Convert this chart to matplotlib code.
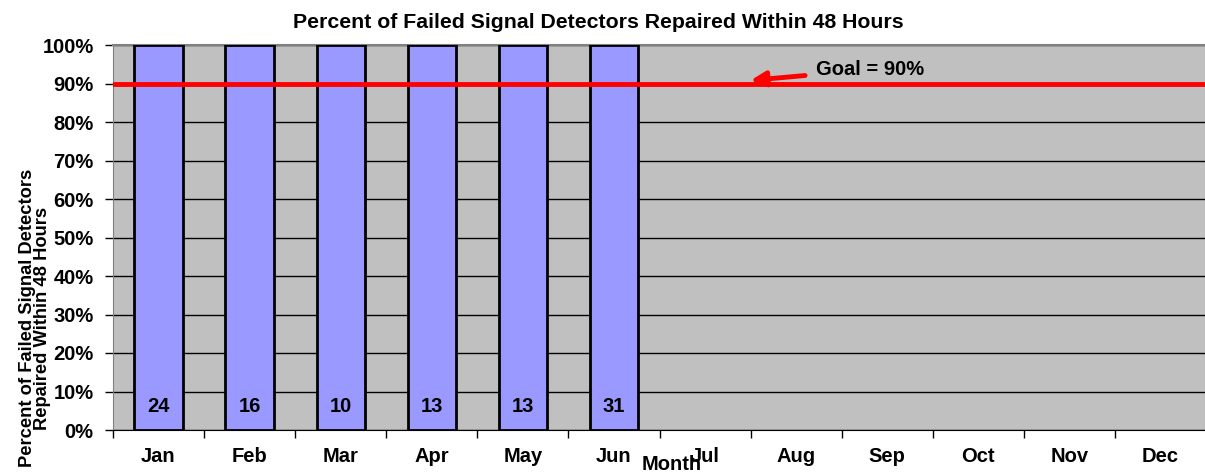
import numpy as np
import matplotlib
matplotlib.use("Agg")
import matplotlib.pyplot as plt

plt.rcParams['font.family'] = ['Liberation Sans', 'DejaVu Sans']
plt.rcParams['font.weight'] = 'bold'

months = ['Jan', 'Feb', 'Mar', 'Apr', 'May', 'Jun', 'Jul', 'Aug', 'Sep', 'Oct', 'Nov', 'Dec']
pct = [100, 100, 100, 100, 100, 100]
counts = [24, 16, 10, 13, 13, 31]
goal = 90

fs = 14.5
fig = plt.figure(figsize=(12.05, 4.74), dpi=100)
ax = fig.add_axes([113/1205, 1-430/474, (1206-113)/1205, 385/474])
ax.set_facecolor('#C0C0C0')

x = np.arange(len(months))
ax.bar(x[:len(pct)], pct, width=0.53, color='#9999FF', edgecolor='black', linewidth=2, zorder=3)
for xi, c in zip(x, counts):
    ax.text(xi, 6.2, str(c), ha='center', va='center', fontsize=fs, fontweight='bold', zorder=4)

ax.axhline(goal, color='#FF0000', lw=3.5, zorder=5)
ax.annotate('Goal = 90%', xy=(6.5, 90.8), xytext=(7.22, 93.6), fontsize=fs, fontweight='bold',
            va='center', ha='left',
            arrowprops=dict(arrowstyle='-|>', color='#FF0000', lw=3.5, mutation_scale=22,
                            shrinkA=6, shrinkB=0), zorder=6)

ax.set_xlim(-0.5, 11.5)
ax.set_ylim(0, 100)
ax.set_yticks(np.arange(0, 101, 10))
ax.set_yticklabels([f'{v}%' for v in range(0, 101, 10)], fontsize=fs, fontweight='bold')
ax.set_xticks(x)
ax.set_xticklabels(months, fontsize=fs, fontweight='bold')
ax.set_xticks(np.arange(-0.5, 12, 1), minor=True)
ax.tick_params(axis='x', which='major', length=0, pad=12)
ax.tick_params(axis='x', which='minor', length=6, width=1, direction='out')
ax.tick_params(axis='y', length=6, width=1, direction='out', pad=8)
ax.grid(axis='y', color='black', lw=1, zorder=1)
ax.set_axisbelow(True)
for s in ['top', 'right']:
    ax.spines[s].set_color('#808080')
    ax.spines[s].set_linewidth(1.5)
ax.spines['left'].set_color('#808080')
ax.spines['bottom'].set_color('black')

ax.set_title('Percent of Failed Signal Detectors Repaired Within 48 Hours', fontsize=15.3,
             fontweight='bold', pad=12, x=(598-113)/1093)
ax.set_xlabel('Month', fontsize=fs, fontweight='bold')
ax.xaxis.set_label_coords((672-113)/1093, -0.065)
ax.set_ylabel('Percent of Failed Signal Detectors\nRepaired Within 48 Hours', fontsize=13.2,
              fontweight='bold', linespacing=0.85)
ax.yaxis.set_label_coords(-0.057, 0.29)

plt.savefig('out.png', dpi=100)
